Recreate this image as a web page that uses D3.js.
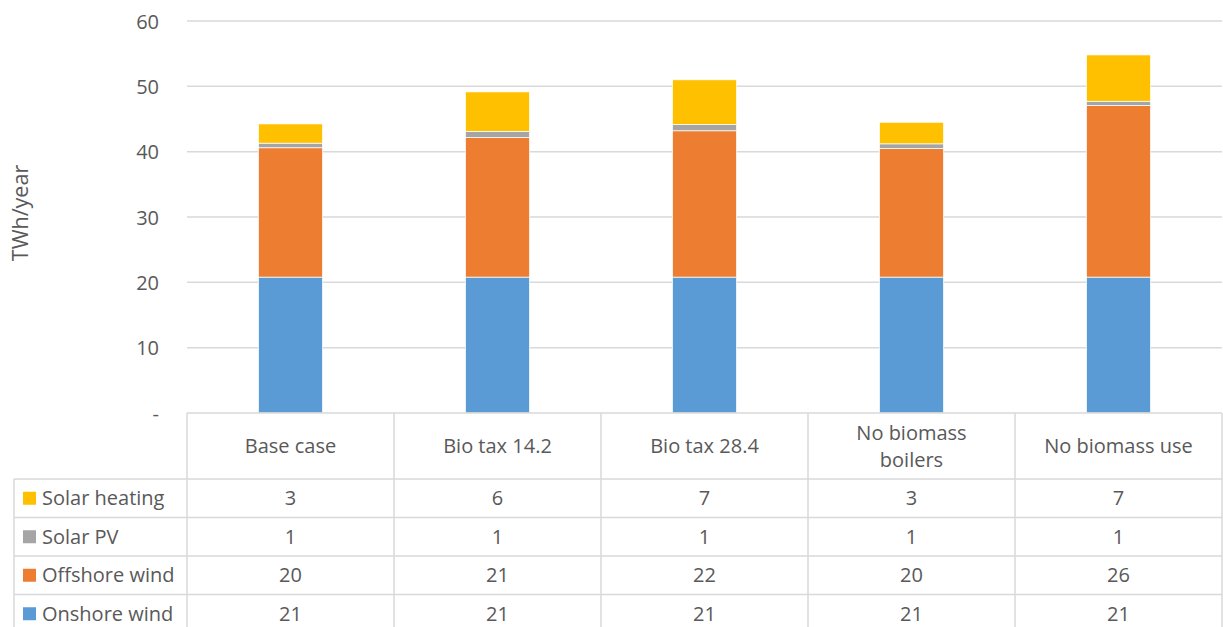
<!DOCTYPE html>
<html>
<head>
<meta charset="utf-8">
<script src="https://cdn.jsdelivr.net/npm/d3@7"></script>
<style>
  html, body { margin: 0; padding: 0; background: #fff; }
  svg { display: block; font-family: "Open Sans", "Noto Sans", sans-serif; }
</style>
</head>
<body>
<svg id="chart" width="1223" height="627"></svg>
<script>
// ---- data ----
const categories = ["Base case", "Bio tax 14.2", "Bio tax 28.4", "No biomass boilers", "No biomass use"];
const categoryLines = [["Base case"], ["Bio tax 14.2"], ["Bio tax 28.4"], ["No biomass", "boilers"], ["No biomass use"]];
const seriesNames = ["Onshore wind", "Offshore wind", "Solar PV", "Solar heating"];
const onshoreWind = [20.8, 20.8, 20.8, 20.8, 20.8];
const offshoreWind = [19.8, 21.35, 22.4, 19.7, 26.26];
const solarPV = [0.7, 0.95, 0.95, 0.7, 0.65];
const solarHeating = [2.95, 6.05, 6.85, 3.3, 7.1];
const seriesColors = ["#5B9BD5", "#ED7D31", "#A5A5A5", "#FFC000"];
const yTicks = [0, 10, 20, 30, 40, 50, 60];
const yTickLabels = ["-", "10", "20", "30", "40", "50", "60"];
const yTitle = "TWh/year";

const seriesValues = [onshoreWind, offshoreWind, solarPV, solarHeating];
const rows = categories.map((c, i) => {
  const o = { cat: c };
  seriesNames.forEach((s, j) => o[s] = seriesValues[j][i]);
  return o;
});

const svg = d3.select("#chart");
const textColor = "#595959";
const lineColor = "#d9d9d9";
const fs = "20px";

const plotLeft = 187, plotRight = 1222, plotTop = 21, plotBottom = 413;
const x = d3.scaleBand().domain(categories).range([plotLeft, plotRight]).paddingInner(0).paddingOuter(0);
const y = d3.scaleLinear().domain([0, 60]).range([plotBottom, plotTop]);

// gridlines
svg.append("g").selectAll("line").data(yTicks.filter(t => t > 0)).join("line")
  .attr("x1", plotLeft).attr("x2", plotRight)
  .attr("y1", d => y(d)).attr("y2", d => y(d))
  .attr("stroke", lineColor).attr("stroke-width", 1.5);

// y axis labels
const yAxis = d3.axisLeft(y).tickValues(yTicks).tickFormat((d, i) => yTickLabels[i]).tickSize(0).tickPadding(0);
const yg = svg.append("g").attr("transform", `translate(159,0)`).call(yAxis);
yg.select(".domain").remove();
yg.selectAll("text").attr("fill", textColor).style("font-size", fs)
  .style("font-family", "'Open Sans', sans-serif").attr("dy", "0.35em");

// y title
svg.append("text")
  .attr("transform", `translate(28,213) rotate(-90)`)
  .attr("text-anchor", "middle").attr("fill", textColor)
  .style("font-size", "21.5px").text(yTitle);

// stacked bars
const stack = d3.stack().keys(seriesNames);
const stacked = stack(rows);
const barW = x.bandwidth() * 0.31;
svg.append("g").selectAll("g").data(stacked).join("g")
  .attr("fill", (d, i) => seriesColors[i])
  .selectAll("rect").data(d => d).join("rect")
  .attr("x", d => x(d.data.cat) + (x.bandwidth() - barW) / 2)
  .attr("width", barW)
  .attr("y", d => y(d[1]))
  .attr("height", d => y(d[0]) - y(d[1]))
  .attr("stroke", "#fff").attr("stroke-width", 0.75);

// data table
const headerTop = 413, headerBottom = 479, rowH = 38.5;
const legendLeft = 14;
const tableOrder = [3, 2, 1, 0]; // Solar heating, Solar PV, Offshore, Onshore
const tbl = svg.append("g");
const fmt = d3.format(".0f");

// header text
categories.forEach((c, i) => {
  const lines = categoryLines[i];
  const cx = x(c) + x.bandwidth() / 2;
  const cy = (headerTop + headerBottom) / 2;
  const lh = 27;
  lines.forEach((ln, k) => {
    tbl.append("text").attr("x", cx)
      .attr("y", cy + (k - (lines.length - 1) / 2) * lh)
      .attr("dy", "0.35em").attr("text-anchor", "middle")
      .attr("fill", textColor).style("font-size", fs).text(ln);
  });
});

// rows
tableOrder.forEach((si, r) => {
  const top = headerBottom + r * rowH;
  const cy = top + rowH / 2;
  tbl.append("rect").attr("x", legendLeft + 9).attr("y", cy - 6.5)
    .attr("width", 13).attr("height", 13).attr("fill", seriesColors[si]);
  tbl.append("text").attr("x", legendLeft + 28).attr("y", cy).attr("dy", "0.35em")
    .attr("fill", textColor).style("font-size", fs).text(seriesNames[si]);
  categories.forEach((c, i) => {
    tbl.append("text").attr("x", x(c) + x.bandwidth() / 2).attr("y", cy).attr("dy", "0.35em")
      .attr("text-anchor", "middle").attr("fill", textColor).style("font-size", fs)
      .text(fmt(seriesValues[si][i]));
  });
});

// table lines
const tableBottom = headerBottom + 4 * rowH;
const sw = 1.5;
tbl.append("line").attr("x1", plotLeft).attr("x2", plotRight).attr("y1", headerTop).attr("y2", headerTop)
  .attr("stroke", lineColor).attr("stroke-width", sw);
for (let r = 0; r <= 4; r++) {
  const yy = headerBottom + r * rowH;
  tbl.append("line").attr("x1", legendLeft).attr("x2", plotRight).attr("y1", yy).attr("y2", yy)
    .attr("stroke", lineColor).attr("stroke-width", sw);
}
const vx = categories.map(c => x(c)).concat([plotRight]);
vx.forEach(xx => {
  tbl.append("line").attr("x1", xx).attr("x2", xx).attr("y1", headerTop).attr("y2", tableBottom)
    .attr("stroke", lineColor).attr("stroke-width", sw);
});
tbl.append("line").attr("x1", legendLeft).attr("x2", legendLeft).attr("y1", headerBottom).attr("y2", tableBottom)
  .attr("stroke", lineColor).attr("stroke-width", sw);
</script>
</body>
</html>
